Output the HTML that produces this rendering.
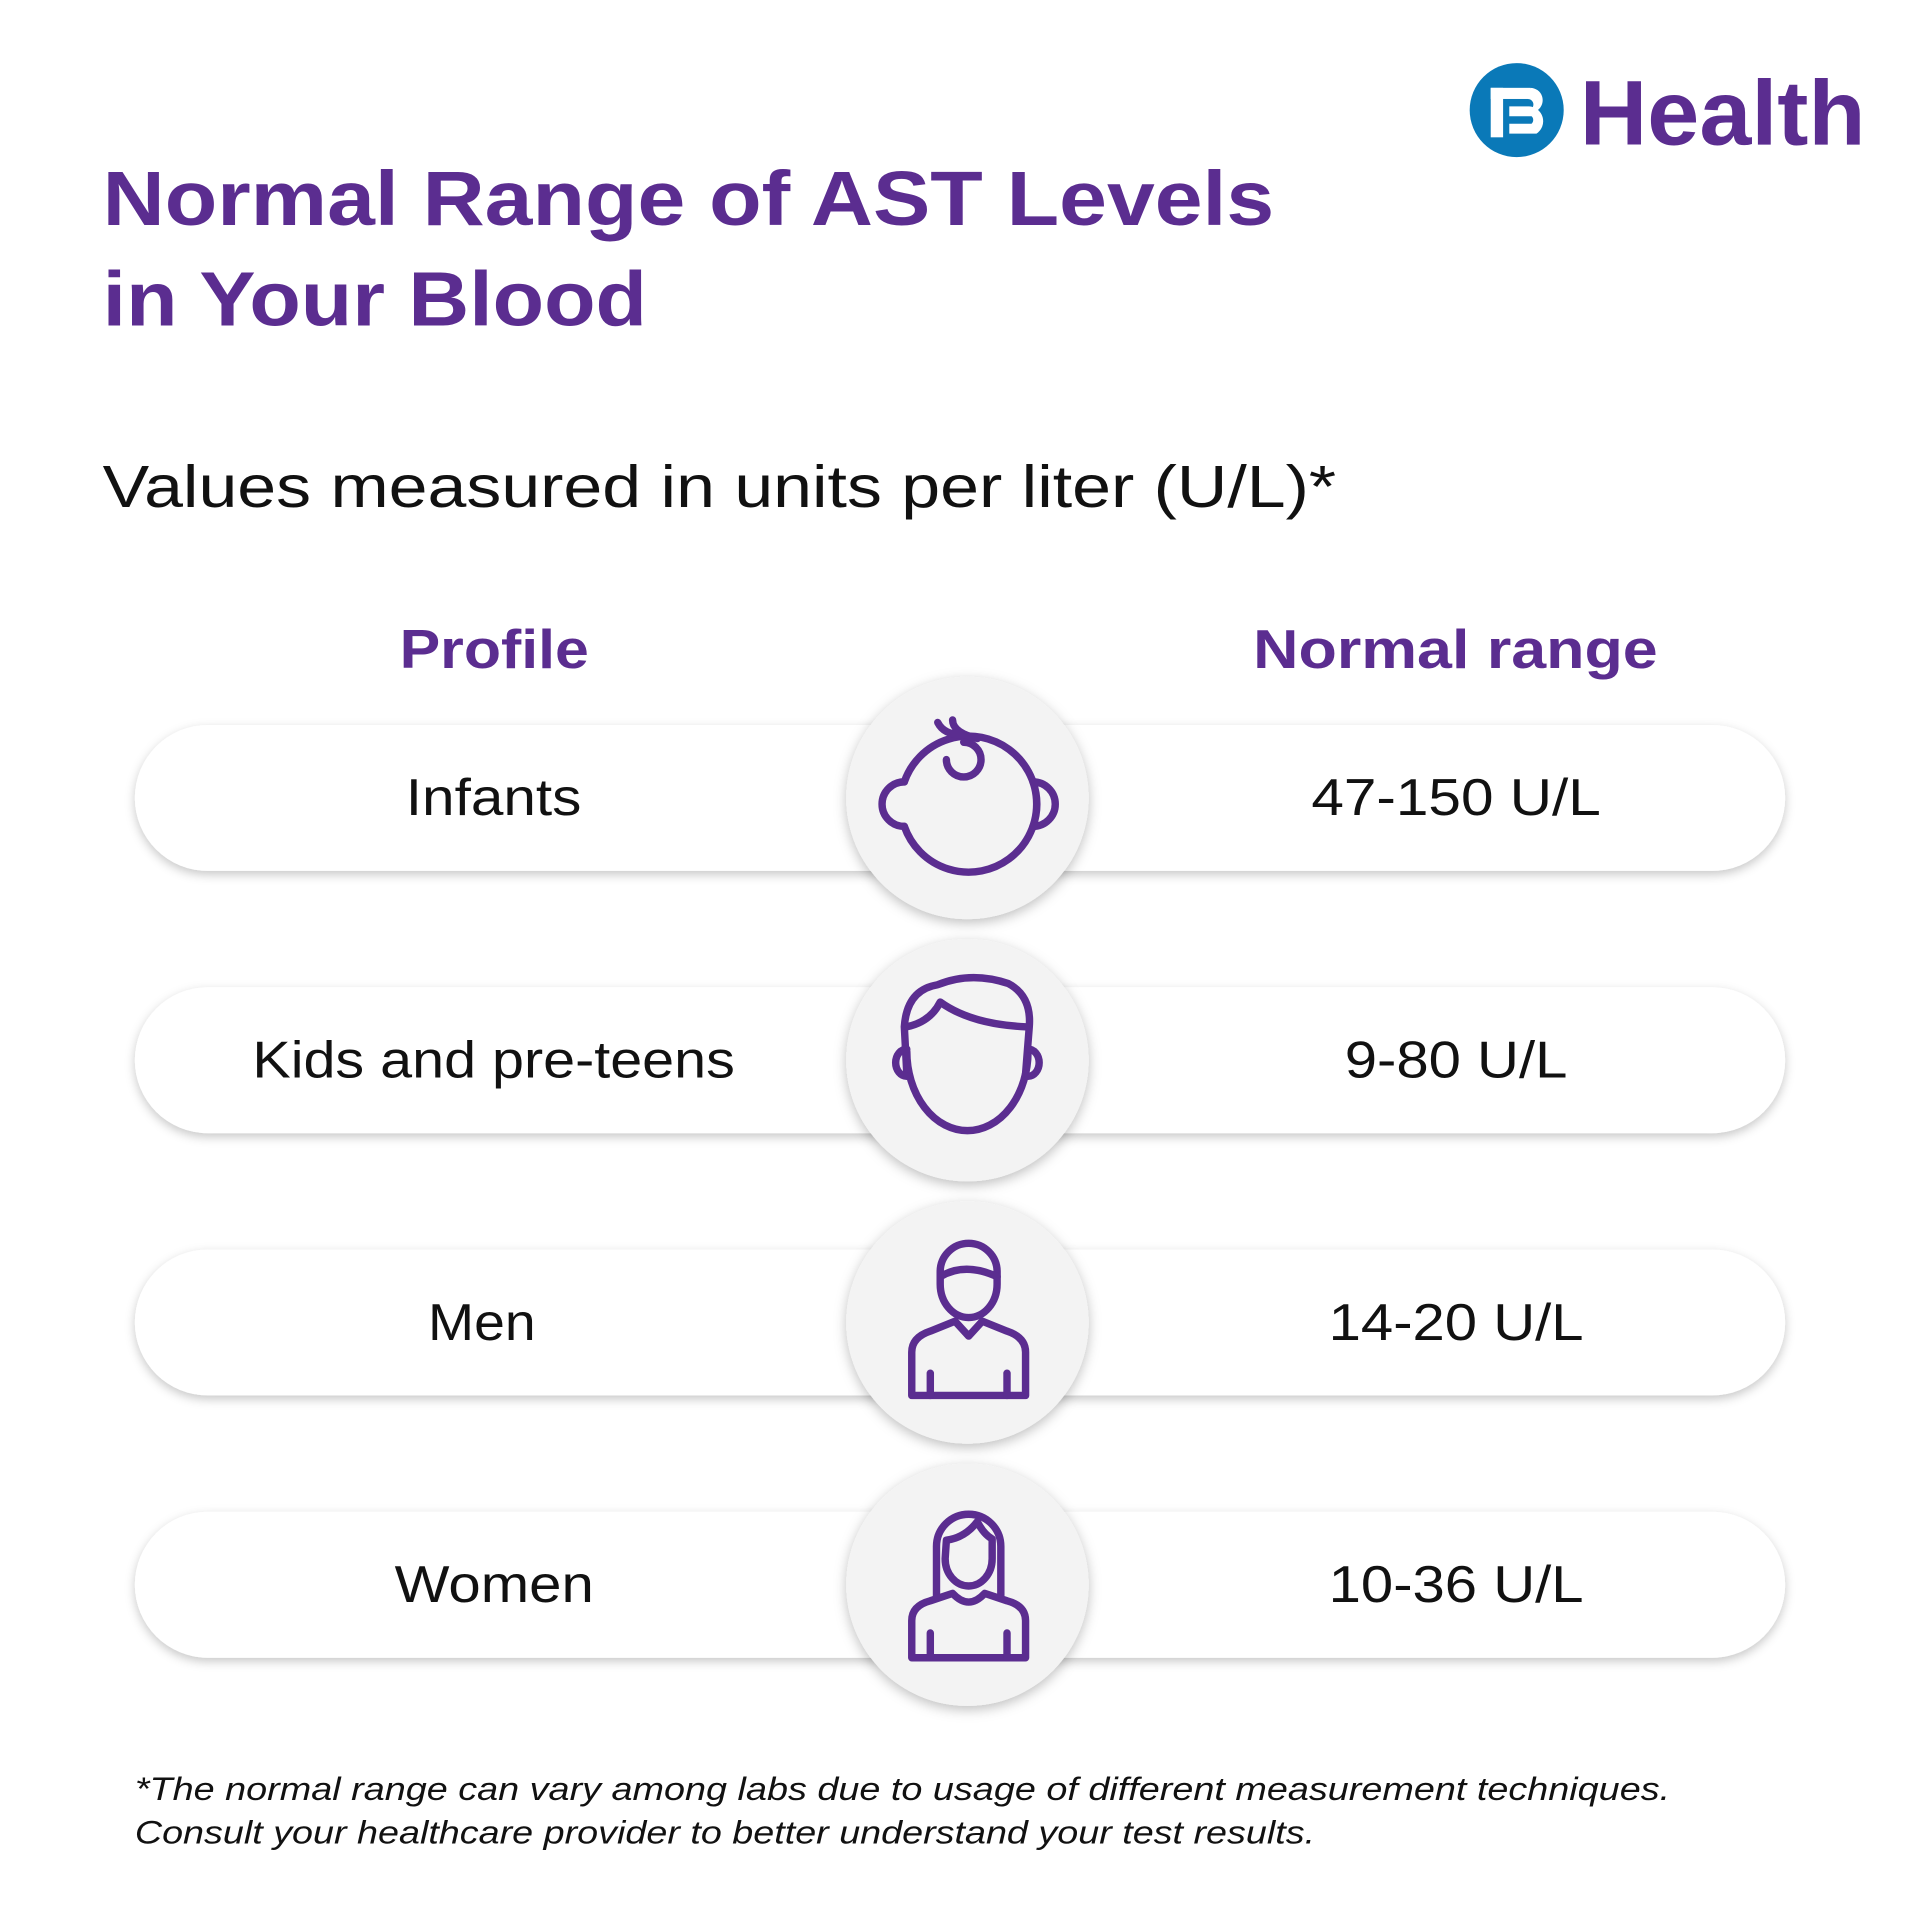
<!DOCTYPE html>
<html><head><meta charset="utf-8"><style>html,body{margin:0;padding:0;background:#fff}svg{display:block}</style></head>
<body>
<svg width="1920" height="1920" viewBox="0 0 1552 1552" xmlns="http://www.w3.org/2000/svg" font-family="Liberation Sans, sans-serif">
<defs>
<filter id="sh" x="-10%" y="-30%" width="120%" height="160%"><feDropShadow dx="0" dy="3" stdDeviation="4" flood-color="#000" flood-opacity="0.22"/></filter>
<filter id="sh2" x="-30%" y="-30%" width="160%" height="160%"><feDropShadow dx="0" dy="3" stdDeviation="5" flood-color="#000" flood-opacity="0.25"/></filter>
</defs>
<rect width="1552" height="1552" fill="#fff"/>
<!-- logo -->
<circle cx="1226" cy="89" r="38" fill="#0a79b8"/>
<g fill="#fff">
<rect x="1205" y="71" width="10" height="40"/>
<rect x="1205" y="71" width="32" height="9"/>
<path d="M1220 86h16a12 12 0 0 1 6 22a0 0 0 0 1 0 0h-22v-8h18a4 4 0 0 0 0-6h-18z"/>
<path d="M1237 71a10 10 0 0 1 6 18h-8a3 3 0 0 0 0-9z"/>
</g>
<text x="1277" y="117" font-size="74" font-weight="bold" fill="#5b2d90" textLength="231" lengthAdjust="spacingAndGlyphs">Health</text>
<!-- title -->
<text x="83" y="182" font-size="62" font-weight="bold" fill="#5b2d90" textLength="947" lengthAdjust="spacingAndGlyphs">Normal Range of AST Levels</text>
<text x="83" y="263" font-size="62" font-weight="bold" fill="#5b2d90" textLength="440" lengthAdjust="spacingAndGlyphs">in Your Blood</text>
<text x="83" y="410" font-size="48" fill="#111" textLength="997" lengthAdjust="spacingAndGlyphs">Values measured in units per liter (U/L)*</text>
<text x="323" y="540" font-size="44" font-weight="bold" fill="#5b2d90" textLength="153" lengthAdjust="spacingAndGlyphs">Profile</text>
<text x="1013" y="540" font-size="44" font-weight="bold" fill="#5b2d90" textLength="327" lengthAdjust="spacingAndGlyphs">Normal range</text>
<g filter="url(#sh)" fill="#fff">
<rect x="109" y="586" width="1334" height="118" rx="59"/>
<rect x="109" y="798" width="1334" height="118" rx="59"/>
<rect x="109" y="1010" width="1334" height="118" rx="59"/>
<rect x="109" y="1222" width="1334" height="118" rx="59"/>
</g>
<g filter="url(#sh2)" fill="#f3f3f3">
<circle cx="782" cy="645" r="98"/>
<circle cx="782" cy="857" r="98"/>
<circle cx="782" cy="1069" r="98"/>
<circle cx="782" cy="1281" r="98"/>
</g>
<g font-size="42" fill="#111" lengthAdjust="spacingAndGlyphs">
<text x="328" y="659" textLength="142" lengthAdjust="spacingAndGlyphs">Infants</text><text x="1060" y="659" textLength="234" lengthAdjust="spacingAndGlyphs">47-150 U/L</text>
<text x="204" y="871" textLength="390" lengthAdjust="spacingAndGlyphs">Kids and pre-teens</text><text x="1087" y="871" textLength="180" lengthAdjust="spacingAndGlyphs">9-80 U/L</text>
<text x="346" y="1083" textLength="87" lengthAdjust="spacingAndGlyphs">Men</text><text x="1074" y="1083" textLength="206" lengthAdjust="spacingAndGlyphs">14-20 U/L</text>
<text x="319" y="1295" textLength="161" lengthAdjust="spacingAndGlyphs">Women</text><text x="1074" y="1295" textLength="206" lengthAdjust="spacingAndGlyphs">10-36 U/L</text>
</g>
<g fill="none" stroke="#5b2d90" stroke-width="6" stroke-linejoin="round" stroke-linecap="round">
<!-- infant -->
<path d="M731 632A55 55 0 1 1 731 668M835 632a55 55 0 0 1 0 36"/>
<path d="M731 632a11 11 0 0 0 0 36M835 632a11 11 0 0 1 0 36"/>
<path d="M765 614a14 14 0 1 0 14-14"/>
<path d="M758 584q5 10 20 10M770 582q0 10 20 15"/>
<!-- kid -->
<path d="M733 868L731 830Q733 800 758 796Q785 785 815 795Q834 805 832 830L829 868"/>
<path d="M733 850A49 64 0 0 0 831 850"/>
<path d="M733 830Q752 826 760 810Q785 828 829 830"/>
<path d="M733 848a9 11 0 0 0 0 22M831 848a9 11 0 0 1 0 22"/>
<!-- man -->
<path d="M760 1028a23 23 0 0 1 46 0v10a23 27 0 0 1-46 0z"/>
<path d="M760 1032q20-12 46 0"/>
<path d="M737 1128v-35q0-12 15-17l20-8 11 12 11-12 20 8q15 5 15 17v35z"/>
<line x1="752" y1="1110" x2="752" y2="1128"/><line x1="814" y1="1110" x2="814" y2="1128"/>
<!-- woman -->
<path d="M757 1290v-40a26 26 0 0 1 52 0v40"/>
<path d="M765 1245q15-2 25-15q5 10 12 14v16a19 22 0 0 1-38 0z"/>
<path d="M737 1340v-30q0-12 15-16l18-6q13 14 26 0l18 6q15 4 15 16v30z"/>
<line x1="752" y1="1320" x2="752" y2="1340"/><line x1="814" y1="1320" x2="814" y2="1340"/>
</g>
<g font-size="26" font-style="italic" fill="#111">
<text x="109" y="1455" textLength="1241" lengthAdjust="spacingAndGlyphs">*The normal range can vary among labs due to usage of different measurement techniques.</text>
<text x="109" y="1490" textLength="954" lengthAdjust="spacingAndGlyphs">Consult your healthcare provider to better understand your test results.</text>
</g>
</svg>
</body></html>
